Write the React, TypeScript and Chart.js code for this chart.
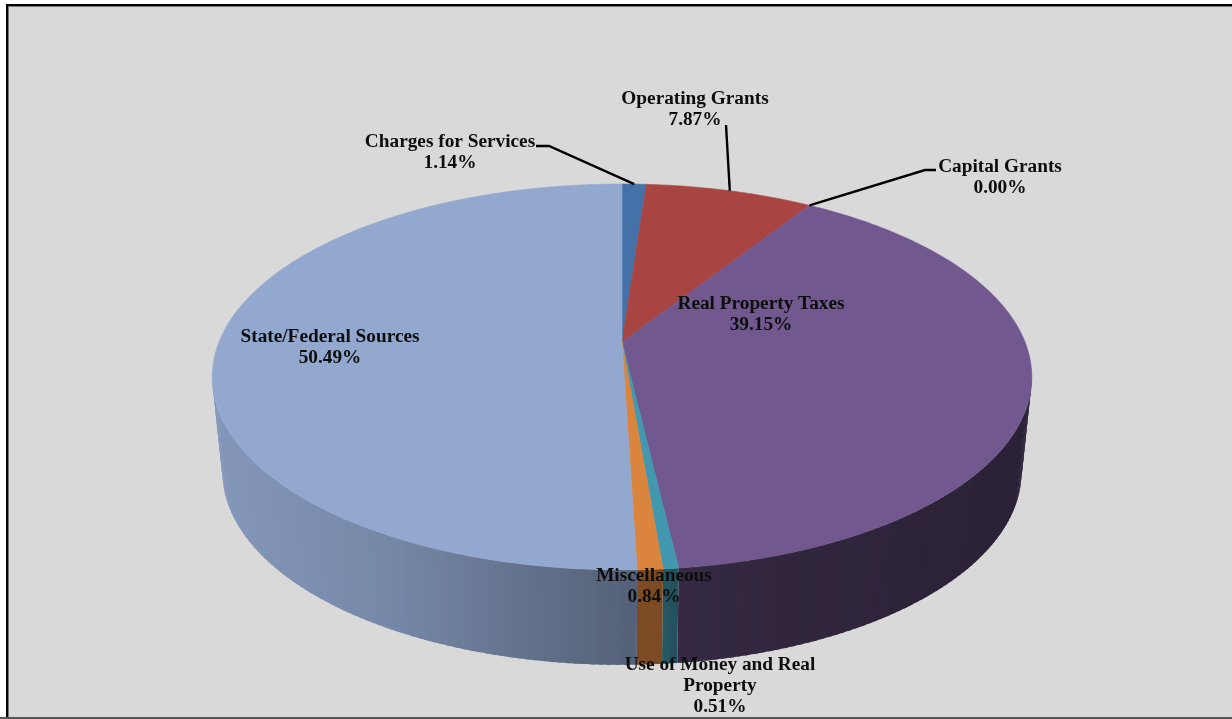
import React, { useEffect, useRef } from "react";
import { Chart, registerables, PieController, ArcElement } from "chart.js";

Chart.register(...registerables);

// ---- data ----
const categories = [
  "Charges for Services",
  "Operating Grants",
  "Capital Grants",
  "Real Property Taxes",
  "Use of Money and Real Property",
  "Miscellaneous",
  "State/Federal Sources",
];
const shares = [1.14, 7.87, 0.0, 39.15, 0.51, 0.84, 50.49];
const sliceColors = ["#4471a7", "#a84542", "#89a54e", "#71588f", "#4198af", "#db843d", "#92a8cf"];

// ---- layout of labels: text lines, centre x, first line centre y, optional leader bend points ----
const labelLayout = [
  { lines: ["Charges for Services"], x: 450, y: 142, leader: [[536, 146], [549, 146]] },
  { lines: ["Operating Grants"], x: 695, y: 99, leader: [[726, 125]] },
  { lines: ["Capital Grants"], x: 1000, y: 167, leader: [[936, 170], [925, 170]] },
  { lines: ["Real Property Taxes"], x: 761, y: 304, leader: null },
  { lines: ["Use of Money and Real", "Property"], x: 720, y: 665, leader: null },
  { lines: ["Miscellaneous"], x: 654, y: 576, leader: null },
  { lines: ["State/Federal Sources"], x: 330, y: 337, leader: null },
];

// ---- projection of the disc (perspective view of a 3D pie) ----
const CX = 622;
const TOP_Y = 342;
const AX = 403;
const BY = 186.6;
const KP = 0.181;
const DEPTH = 95;
const BOTTOM_SCALE = 0.975;

const rim = (a: number, low = false): [number, number] => {
  const u = Math.cos(a);
  const v = Math.sin(a);
  const d = 1 - KP * v;
  const s = low ? BOTTOM_SCALE : 1;
  return [CX + (AX * s * u) / d, TOP_Y + (low ? DEPTH : 0) + (BY * v) / d];
};

const shadeStops: [number, number][] = [
  [215, 0.9],
  [400, 0.8],
  [500, 0.7],
  [630, 0.58],
  [672, 0.56],
  [682, 0.47],
  [800, 0.43],
  [1030, 0.38],
];
const shadeAt = (x: number) => {
  for (let i = 1; i < shadeStops.length; i++) {
    const [x0, s0] = shadeStops[i - 1];
    const [x1, s1] = shadeStops[i];
    if (x <= x1) return s0 + ((s1 - s0) * Math.max(0, x - x0)) / (x1 - x0);
  }
  return shadeStops[shadeStops.length - 1][1];
};
const hexRgb = (h: string) => [1, 3, 5].map((i) => parseInt(h.slice(i, i + 2), 16));

class Arc3D extends ArcElement {
  static id = "arc3d";
  drawWall(ctx: CanvasRenderingContext2D) {
    const { startAngle, endAngle } = this as any;
    if (endAngle - startAngle <= 0) return;
    const color = hexRgb((this as any).options.backgroundColor);
    const minV = KP;
    const step = Math.PI / 180;
    for (let a = startAngle; a < endAngle; a += step) {
      const b = Math.min(a + step, endAngle);
      if (Math.sin((a + b) / 2) < minV) continue;
      // overlap the next strip so that no seam shows; the last strip stays inside the slice
      const over = Math.min(b + step * 0.6, endAngle);
      const p1 = rim(a);
      const p2 = rim(over);
      const p3 = rim(over, true);
      const p4 = rim(a, true);
      const mx = (p1[0] + rim(b)[0]) / 2;
      const s = shadeAt(mx);
      ctx.beginPath();
      ctx.moveTo(p1[0], p1[1]);
      for (let t = 1; t <= 3; t++) {
        const q = rim(a + ((over - a) * t) / 3);
        ctx.lineTo(q[0], q[1]);
      }
      ctx.lineTo(p3[0], p3[1]);
      for (let t = 2; t >= 0; t--) {
        const q = rim(a + ((over - a) * t) / 3, true);
        ctx.lineTo(q[0], q[1]);
      }
      ctx.lineTo(p4[0], p4[1]);
      ctx.closePath();
      ctx.fillStyle = `rgb(${color.map((n) => Math.round(n * s)).join(",")})`;
      ctx.fill();
      void p2;
    }
  }
  draw(ctx: CanvasRenderingContext2D) {
    const { startAngle, endAngle } = this as any;
    if (endAngle - startAngle <= 0) return;
    const fill = (this as any).options.backgroundColor;
    ctx.save();
    ctx.beginPath();
    ctx.moveTo(CX, TOP_Y);
    const n = Math.max(2, Math.ceil((endAngle - startAngle) / (Math.PI / 360)));
    for (let i = 0; i <= n; i++) {
      const p = rim(startAngle + ((endAngle - startAngle) * i) / n);
      ctx.lineTo(p[0], p[1]);
    }
    ctx.closePath();
    ctx.fillStyle = fill;
    ctx.strokeStyle = fill;
    ctx.lineWidth = 0.6;
    ctx.lineJoin = "round";
    ctx.fill();
    ctx.stroke();
    ctx.restore();
  }
}

class Pie3DController extends PieController {
  static id = "pie3d";
  static defaults = { dataElementType: "arc3d" };
  draw() {
    const ctx = (this as any).chart.ctx as CanvasRenderingContext2D;
    const els = (this as any)._cachedMeta.data as Arc3D[];
    ctx.save();
    els.forEach((e) => e.drawWall(ctx));
    els.forEach((e) => e.draw(ctx));
    ctx.restore();
  }
}
Chart.register(Arc3D as any, Pie3DController as any);

const labelsPlugin = {
  id: "pieLabels",
  afterDatasetsDraw(chart: any) {
    const ctx = chart.ctx as CanvasRenderingContext2D;
    const arcs = chart.getDatasetMeta(0).data;
    ctx.save();
    ctx.font = 'bold 19.3px "Liberation Serif"';
    ctx.textAlign = "center";
    ctx.textBaseline = "middle";
    ctx.fillStyle = "#0d0d0d";
    labelLayout.forEach((l, i) => {
      if (l.leader) {
        const mid = (arcs[i].startAngle + arcs[i].endAngle) / 2;
        const end = rim(mid);
        ctx.beginPath();
        l.leader.forEach((p, j) => (j ? ctx.lineTo(p[0], p[1]) : ctx.moveTo(p[0], p[1])));
        ctx.lineTo(end[0], end[1]);
        ctx.strokeStyle = "#000";
        ctx.lineWidth = 2.4;
        ctx.stroke();
      }
      const text = [...l.lines, `${shares[i].toFixed(2)}%`];
      text.forEach((t, j) => ctx.fillText(t, l.x, l.y + j * 20.8));
    });
    ctx.restore();
  },
};

export default function App() {
  const ref = useRef<HTMLCanvasElement>(null);
  useEffect(() => {
    document.body.style.margin = "0";
    const chart = new Chart(ref.current!, {
      type: "pie3d" as any,
      data: {
        labels: categories,
        datasets: [{ data: shares, backgroundColor: sliceColors, borderWidth: 0 }],
      },
      options: {
        responsive: false,
        animation: false,
        events: [],
        plugins: { legend: { display: false }, tooltip: { enabled: false } },
      } as any,
      plugins: [labelsPlugin],
    });
    return () => chart.destroy();
  }, []);
  return (
    <div
      style={{
        position: "fixed",
        left: 6,
        top: 4,
        width: 1232,
        height: 713,
        boxSizing: "border-box",
        background: "#d9d9d9",
        borderLeft: "2px solid #000",
        borderTop: "2px solid #000",
        boxShadow: "inset 1px 1px 0 #777",
        overflow: "hidden",
      }}
    >
      <canvas
        ref={ref}
        width={1232}
        height={719}
        style={{ position: "absolute", left: -8, top: -6, width: 1232, height: 719, filter: "blur(0.5px)" }}
      />
      <div style={{ position: "fixed", left: 0, top: 717, width: 1232, height: 2, background: "#555" }} />
    </div>
  );
}
